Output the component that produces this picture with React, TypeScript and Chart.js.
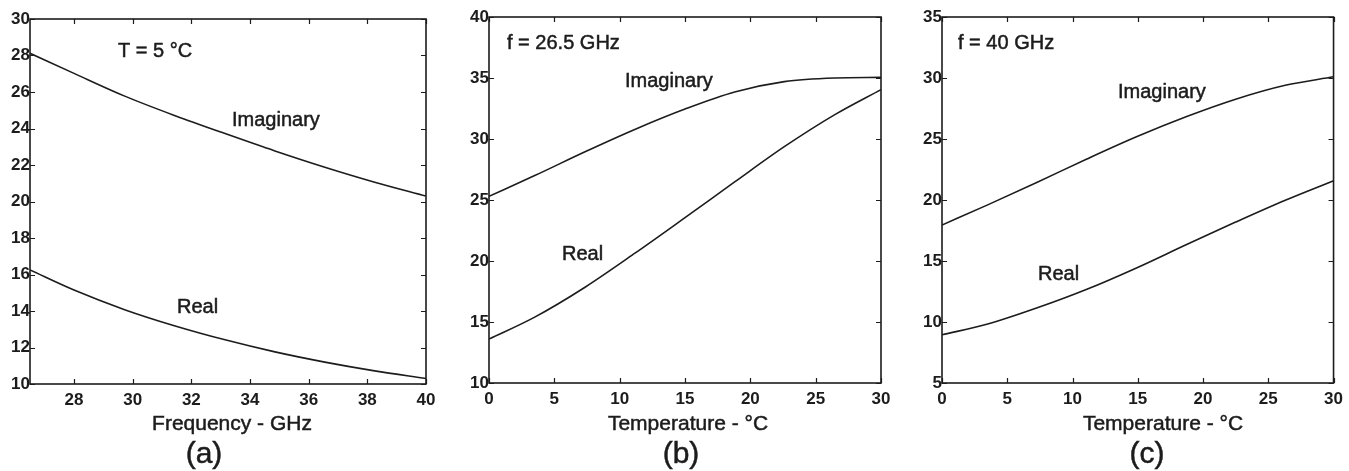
import { useEffect, useRef } from "react";
import { Chart, registerables } from "chart.js";
Chart.register(...registerables);

// ---------- data ----------
const FREQ_A = [26.5, 28.0, 29.75, 31.45, 33.15, 34.85, 36.55, 38.25, 40];
const IMAG_A = [28.12, 27.02, 25.76, 24.7, 23.72, 22.77, 21.88, 21.06, 20.3];
const REAL_A = [16.25, 15.15, 14.06, 13.18, 12.42, 11.76, 11.2, 10.72, 10.3];

const TEMP_B = [0, 3.5, 7.35, 11.2, 15, 18.8, 22.6, 26.5, 30];
const IMAG_B = [25.3, 27.0, 28.95, 30.8, 32.45, 33.85, 34.7, 35.0, 35.05];
const REAL_B = [13.6, 15.4, 17.85, 20.66, 23.55, 26.48, 29.37, 32.02, 34.05];

const TEMP_C = [0, 3.5, 7.3, 11.1, 14.9, 18.7, 22.5, 26.3, 30];
const IMAG_C = [17.95, 19.6, 21.46, 23.36, 25.18, 26.82, 28.26, 29.4, 30.1];
const REAL_C = [8.95, 9.83, 11.16, 12.68, 14.43, 16.33, 18.19, 19.98, 21.58];

const X_TICKS_A = [28, 30, 32, 34, 36, 38, 40];
const Y_TICKS_A = [10, 12, 14, 16, 18, 20, 22, 24, 26, 28, 30];
const X_TICKS_T = [0, 5, 10, 15, 20, 25, 30];
const Y_TICKS_B = [10, 15, 20, 25, 30, 35, 40];
const Y_TICKS_C = [5, 10, 15, 20, 25, 30, 35];

// ---------- layout ----------
const H = 471;
const FAMILY = '"Liberation Sans", Arial, Helvetica, sans-serif';
const INK = "#1c1c1c";

const PANELS = [
  {
    left: 0, width: 450,
    area: { l: 30, r: 426, t: 19, b: 384 },
    x: FREQ_A, imag: IMAG_A, real: REAL_A,
    xMin: 26.5, xMax: 40, yMin: 10, yMax: 30,
    xTicks: X_TICKS_A, yTicks: Y_TICKS_A,
    title: "Frequency - GHz", titleX: 232,
    caption: "(a)", captionX: 204,
    notes: [
      { text: "T = 5 °C", x: 118, y: 57 },
      { text: "Imaginary", x: 232, y: 126 },
      { text: "Real", x: 177, y: 313 },
    ],
  },
  {
    left: 450, width: 450,
    area: { l: 39, r: 431, t: 17, b: 383 },
    x: TEMP_B, imag: IMAG_B, real: REAL_B,
    xMin: 0, xMax: 30, yMin: 10, yMax: 40,
    xTicks: X_TICKS_T, yTicks: Y_TICKS_B,
    title: "Temperature - °C", titleX: 238,
    caption: "(b)", captionX: 231,
    notes: [
      { text: "f = 26.5 GHz", x: 57, y: 49 },
      { text: "Imaginary", x: 175, y: 87 },
      { text: "Real", x: 112, y: 260 },
    ],
  },
  {
    left: 900, width: 449,
    area: { l: 42, r: 437, t: 17, b: 383 },
    x: TEMP_C, imag: IMAG_C, real: REAL_C,
    xMin: 0, xMax: 30, yMin: 5, yMax: 35,
    xTicks: X_TICKS_T, yTicks: Y_TICKS_C,
    title: "Temperature - °C", titleX: 263,
    caption: "(c)", captionX: 247,
    notes: [
      { text: "f = 40 GHz", x: 58, y: 49 },
      { text: "Imaginary", x: 218, y: 98 },
      { text: "Real", x: 138, y: 280 },
    ],
  },
];

type Panel = (typeof PANELS)[number];

function heavyText(ctx: CanvasRenderingContext2D, text: string, x: number, y: number) {
  ctx.fillText(text, x, y);
  ctx.strokeText(text, x, y);
}

function makeChart(canvas: HTMLCanvasElement, p: Panel) {
  const framePlugin = {
    id: "frame",
    afterDraw(chart: any) {
      const { ctx, chartArea: a, scales } = chart;
      ctx.save();
      ctx.strokeStyle = INK;
      ctx.lineWidth = 1.6;
      ctx.strokeRect(a.left, a.top, a.right - a.left, a.bottom - a.top);
      ctx.lineWidth = 1.2;
      const TL = 5;
      ctx.beginPath();
      for (const v of p.xTicks) {
        const px = Math.round(scales.x.getPixelForValue(v)) + 0.5;
        ctx.moveTo(px, a.bottom);
        ctx.lineTo(px, a.bottom - TL);
        ctx.moveTo(px, a.top);
        ctx.lineTo(px, a.top + TL);
      }
      for (const v of p.yTicks) {
        const py = Math.round(scales.y.getPixelForValue(v)) + 0.5;
        ctx.moveTo(a.left, py);
        ctx.lineTo(a.left + TL, py);
        ctx.moveTo(a.right, py);
        ctx.lineTo(a.right - TL, py);
      }
      ctx.stroke();

      ctx.fillStyle = INK;
      ctx.strokeStyle = INK;
      ctx.lineWidth = 0.5;
      ctx.textBaseline = "alphabetic";
      ctx.textAlign = "left";
      ctx.font = `20px ${FAMILY}`;
      for (const n of p.notes) heavyText(ctx, n.text, n.x, n.y);

      ctx.textAlign = "center";
      ctx.font = `21px ${FAMILY}`;
      heavyText(ctx, p.title, p.titleX, 430);
      ctx.font = `30px ${FAMILY}`;
      heavyText(ctx, p.caption, p.captionX, 463);
      ctx.restore();
    },
  };

  const tickFont = { family: FAMILY, size: 17, weight: "bold" as const };

  return new Chart(canvas, {
    type: "line",
    data: {
      datasets: [
        {
          label: "Imaginary",
          data: p.x.map((v, i) => ({ x: v, y: p.imag[i] })),
          borderColor: INK,
          borderWidth: 1.6,
          pointRadius: 0,
          cubicInterpolationMode: "monotone",
        },
        {
          label: "Real",
          data: p.x.map((v, i) => ({ x: v, y: p.real[i] })),
          borderColor: INK,
          borderWidth: 1.6,
          pointRadius: 0,
          cubicInterpolationMode: "monotone",
        },
      ],
    },
    options: {
      animation: false,
      responsive: false,
      devicePixelRatio: 1,
      layout: {
        autoPadding: false,
        padding: { left: 0, top: p.area.t, right: p.width - p.area.r, bottom: 0 },
      },
      plugins: { legend: { display: false }, tooltip: { enabled: false } },
      scales: {
        x: {
          type: "linear",
          min: p.xMin,
          max: p.xMax,
          afterBuildTicks: (s: any) => {
            s.ticks = p.xTicks.map((v) => ({ value: v }));
          },
          afterFit: (s: any) => {
            s.height = H - p.area.b;
          },
          grid: { display: false, drawTicks: false },
          border: { display: false },
          ticks: { autoSkip: false, maxRotation: 0, padding: 6, color: INK, font: tickFont },
        },
        y: {
          type: "linear",
          min: p.yMin,
          max: p.yMax,
          afterBuildTicks: (s: any) => {
            s.ticks = p.yTicks.map((v) => ({ value: v }));
          },
          afterFit: (s: any) => {
            s.width = p.area.l;
          },
          grid: { display: false, drawTicks: false },
          border: { display: false },
          ticks: { autoSkip: false, padding: 0, color: INK, font: tickFont },
        },
      },
    } as any,
    plugins: [framePlugin],
  });
}

function PanelChart({ p }: { p: Panel }) {
  const ref = useRef<HTMLCanvasElement>(null);
  useEffect(() => {
    if (!ref.current) return;
    const c = makeChart(ref.current, p);
    let alive = true;
    const fonts = (document as any).fonts;
    if (fonts && fonts.load) {
      Promise.all([
        fonts.load(`bold 17px "Liberation Sans"`),
        fonts.load(`20px "Liberation Sans"`),
      ])
        .then(() => {
          if (alive) c.update();
        })
        .catch(() => {});
    }
    return () => {
      alive = false;
      c.destroy();
    };
  }, [p]);
  return (
    <canvas
      ref={ref}
      width={p.width}
      height={H}
      style={{ position: "absolute", left: p.left, top: 0, width: p.width, height: H }}
    />
  );
}

export default function App() {
  return (
    <div
      style={{
        position: "fixed",
        left: 0,
        top: 0,
        width: 1349,
        height: H,
        background: "#fff",
        overflow: "hidden",
      }}
    >
      {PANELS.map((p, i) => (
        <PanelChart key={i} p={p} />
      ))}
    </div>
  );
}
